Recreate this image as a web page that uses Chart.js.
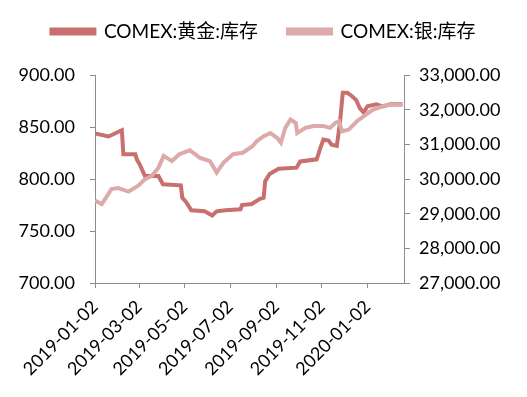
<!DOCTYPE html>
<html>
<head>
<meta charset="utf-8">
<script src="https://cdn.jsdelivr.net/npm/chart.js@4"></script>
<style>
  html, body { margin: 0; padding: 0; background: #fff; }
</style>
</head>
<body>
<canvas id="chart" width="527" height="397"></canvas>
<script>
// series
const startDate = "2019-01-02";
const endDate = "2020-02-19";
const tickLabels = ["2019-01-02", "2019-03-02", "2019-05-02", "2019-07-02", "2019-09-02", "2019-11-02", "2020-01-02"];

const goldDates = ["2019-01-02","2019-01-20","2019-02-07","2019-02-09","2019-02-25","2019-02-27","2019-03-03","2019-03-08","2019-03-10","2019-03-28","2019-04-03","2019-04-27","2019-04-29","2019-05-04","2019-05-11","2019-05-29","2019-06-08","2019-06-14","2019-06-26","2019-07-16","2019-07-18","2019-07-31","2019-08-11","2019-08-16","2019-08-18","2019-08-24","2019-09-05","2019-09-29","2019-10-04","2019-10-26","2019-10-31","2019-11-04","2019-11-11","2019-11-15","2019-11-22","2019-11-26","2019-11-30","2019-12-06","2019-12-12","2019-12-18","2019-12-23","2019-12-28","2020-01-02","2020-01-14","2020-01-22","2020-02-02","2020-02-18"];
const goldValues = [844,841,847,824,824,819,814,806,803,803,795,794,782,778,770,769,765,769,770,771,775,776,781,782,798,805,810,811,817,819,830,838,837,833,832,853,883,883,880,876,868,864,870,872,870,872,872];

const silverDates = ["2019-01-02","2019-01-11","2019-01-17","2019-01-24","2019-02-02","2019-02-16","2019-03-01","2019-03-10","2019-03-19","2019-03-28","2019-04-04","2019-04-15","2019-04-25","2019-05-09","2019-05-16","2019-05-22","2019-06-05","2019-06-14","2019-06-23","2019-07-06","2019-07-19","2019-08-01","2019-08-07","2019-08-16","2019-08-25","2019-09-03","2019-09-08","2019-09-14","2019-09-21","2019-09-28","2019-09-30","2019-10-11","2019-10-22","2019-11-04","2019-11-13","2019-11-20","2019-11-25","2019-11-29","2019-12-08","2019-12-19","2019-12-31","2020-01-09","2020-01-22","2020-01-31","2020-02-11","2020-02-18"];
const silverValues = [29380,29280,29470,29710,29740,29640,29810,30000,30090,30330,30670,30520,30720,30830,30720,30620,30520,30190,30470,30720,30760,30950,31100,31240,31330,31190,31050,31480,31720,31620,31330,31480,31530,31530,31480,31620,31670,31380,31430,31670,31860,32000,32100,32150,32150,32150];

const goldColor = "#C8706E";
const silverColor = "#DBAAA9";

function dayOf(s) {
  return (Date.parse(s) - Date.parse(startDate)) / 86400000;
}
const tickDays = tickLabels.map(dayOf);

const ctx = document.getElementById("chart").getContext("2d");
const tickFont = { family: "Lato, 'Noto Sans CJK SC', sans-serif", size: 18 };
const axisGray = "#8C8C8C";

new Chart(ctx, {
  type: "line",
  data: {
    datasets: [
      {
        label: "COMEX:黄金:库存",
        data: goldDates.map((d, i) => ({ x: dayOf(d), y: goldValues[i] })),
        borderColor: goldColor,
        backgroundColor: goldColor,
        borderWidth: 4,
        pointRadius: 0,
        tension: 0,
        yAxisID: "y",
        order: 1,
      },
      {
        label: "COMEX:银:库存",
        data: silverDates.map((d, i) => ({ x: dayOf(d), y: silverValues[i] })),
        borderColor: silverColor,
        backgroundColor: silverColor,
        borderWidth: 4,
        pointRadius: 0,
        tension: 0,
        yAxisID: "y1",
        order: 0,
      },
    ],
  },
  options: {
    responsive: false,
    animation: false,
    layout: { padding: { top: -8, right: 0, left: 0, bottom: 0 } },
    plugins: {
      tooltip: { enabled: false },
      // empty title used as a spacer between legend and plot
      title: { display: true, text: "", weight: 500, font: { size: 1 }, padding: { top: 0, bottom: 23 } },
      legend: {
        position: "top",
        labels: {
          boxWidth: 43,
          boxHeight: 4,
          padding: 30,
          color: "#000",
          font: { family: "Lato, 'Noto Sans CJK SC', sans-serif", size: 19 },
          sort: (a, b) => a.datasetIndex - b.datasetIndex,
        },
      },
    },
    scales: {
      x: {
        type: "linear",
        min: 0,
        max: dayOf(endDate) + 1,
        afterBuildTicks: (axis) => {
          axis.ticks = tickDays.map((v) => ({ value: v }));
        },
        afterFit: (axis) => { axis.height = 114; },
        ticks: {
          autoSkip: false,
          minRotation: 45,
          maxRotation: 45,
          color: "#000",
          font: tickFont,
          padding: 8,
          callback: (v) => {
            const i = tickDays.indexOf(v);
            return i >= 0 ? tickLabels[i] : "";
          },
        },
        grid: { drawOnChartArea: false, drawTicks: true, tickLength: 5, color: axisGray },
        border: { color: axisGray, width: 1 },
      },
      y: {
        position: "left",
        min: 700,
        max: 900,
        afterFit: (axis) => { axis.width = 95; },
        ticks: {
          stepSize: 50,
          color: "#000",
          font: tickFont,
          padding: 15,
          callback: (v) => v.toFixed(2),
        },
        grid: { drawOnChartArea: false, drawTicks: true, tickLength: 5, color: axisGray },
        border: { color: axisGray, width: 1 },
      },
      y1: {
        position: "right",
        min: 27000,
        max: 33000,
        afterFit: (axis) => { axis.width = 123; },
        ticks: {
          stepSize: 1000,
          color: "#000",
          font: tickFont,
          padding: 9,
          callback: (v) => v.toLocaleString("en-US", { minimumFractionDigits: 2, maximumFractionDigits: 2 }),
        },
        grid: { drawOnChartArea: false, drawTicks: true, tickLength: 6, color: axisGray },
        border: { color: axisGray, width: 1 },
      },
    },
  },
});
</script>
</body>
</html>
